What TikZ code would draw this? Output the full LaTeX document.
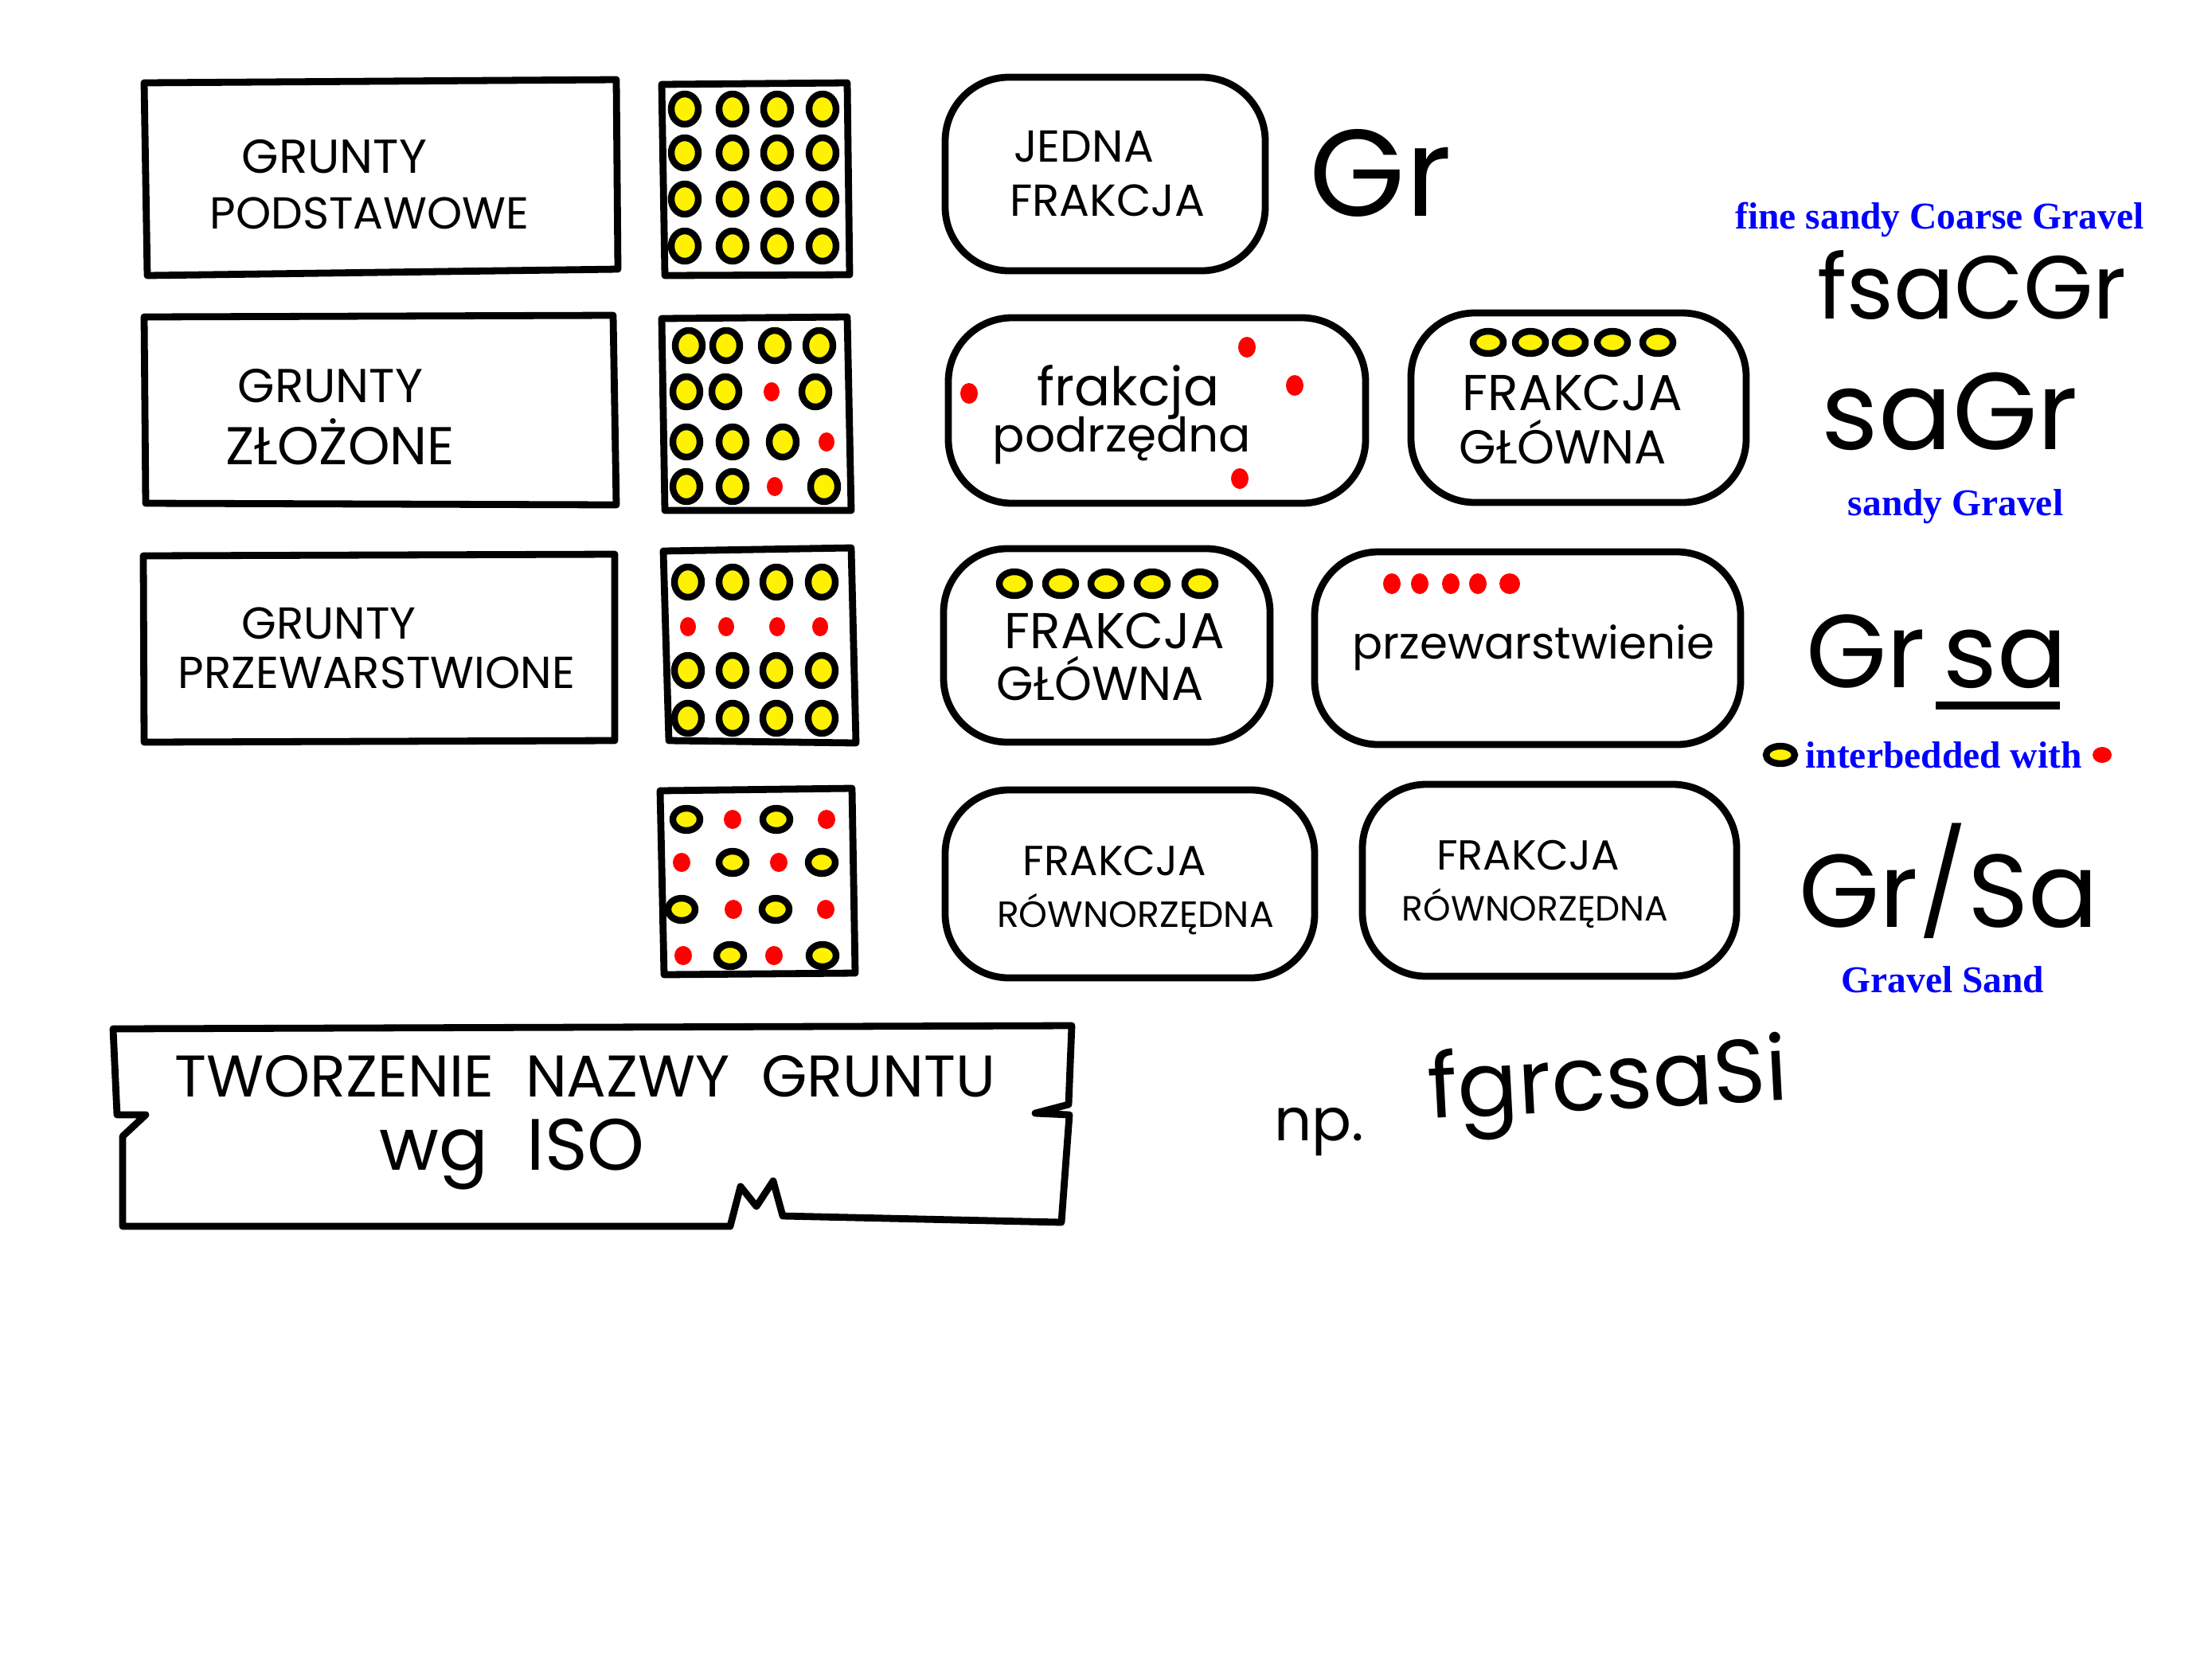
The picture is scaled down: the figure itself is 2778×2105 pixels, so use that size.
\documentclass[tikz,border=0pt]{standalone}
\usepackage{fontspec}
\setmainfont{Liberation Serif}
\newfontfamily\handfont{Poppins}
\newcommand{\odrecz}[1]{\handfont\fontsize{#1}{#1}\selectfont}

\tikzset{
  sketch/.style={line width=2.5pt, line join=round, line cap=round},
  grain/.style={draw=black, fill=yellow, line width=2.4pt},
  fine/.style={fill=red},
  hand/.style={inner sep=0pt},
  note/.style={font=\bfseries\fontsize{13.5}{15}\selectfont, text=blue, inner sep=0pt},
}

\begin{document}
\begin{tikzpicture}[x=0.01cm, y=-0.01cm]
\useasboundingbox (0,0) rectangle (2778,2105);
% draw soil type boxes
	\draw[sketch] (181,104) -- (774,100) -- (776,338) -- (185,346) -- cycle;
	\draw[sketch] (181,398) -- (770,396) -- (774,634) -- (183,632) -- cycle;
	\draw[sketch] (180,698) -- (772,696) -- (772,930) -- (181,932) -- cycle;
	\node[hand, font=\odrecz{17}] (podst1) at (420,197) {GRUNTY};
	\node[hand, font=\odrecz{16}] (podst2) at (464,268) {PODSTAWOWE};
	\node[hand, font=\odrecz{17}] (zloz1) at (415,485) {GRUNTY};
	\node[hand, font=\odrecz{19}] (zloz2) at (427,555) {ZŁOŻONE};
	\node[hand, font=\odrecz{16}] (przew1) at (413,783) {GRUNTY};
	\node[hand, font=\odrecz{16}] (przew2) at (473,845) {PRZEWARSTWIONE};
% draw grain boxes
	\draw[sketch] (831,106) -- (1064,104) -- (1067,345) -- (835,346) -- cycle;
	\draw[sketch] (831,400) -- (1064,398) -- (1069,641) -- (835,641) -- cycle;
	\draw[sketch] (833,692) -- (1069,688) -- (1075,933) -- (840,930) -- cycle;
	\draw[sketch] (829,993) -- (1070,990) -- (1074,1222) -- (834,1224) -- cycle;
% grains: yellow = main fraction, red = other fraction
	\foreach \x in {860,920,976,1033}
		\foreach \y in {137,192,250,309}
			\draw[grain] (\x,\y) ellipse [x radius=17, y radius=19];
	\foreach \x/\y in {865/434,912/434,973/434,1029/434,862/492,911/492,1024/492,
		862/555,920/555,983/555,862/611,920/611,1035/611}
		\draw[grain] (\x,\y) ellipse [x radius=17, y radius=19];
	\foreach \x/\y in {969/492,1038/555,973/611}
		\fill[fine] (\x,\y) ellipse [x radius=10, y radius=12];
	\foreach \x in {864,920,975,1032}
		\foreach \y in {731,842,902}
			\draw[grain] (\x,\y) ellipse [x radius=17, y radius=19];
	\foreach \x in {864,912,976,1030}
		\fill[fine] (\x,787) ellipse [x radius=10, y radius=12];
	\foreach \x/\y in {862/1029,975/1029,920/1083,1032/1083,856/1142,974/1142,917/1200,1033/1200}
		\draw[grain] (\x,\y) ellipse [x radius=17, y radius=14];
	\foreach \x/\y in {920/1029,1038/1029,856/1083,978/1083,921/1142,1037/1142,858/1200,972/1200}
		\fill[fine] (\x,\y) ellipse [x radius=11, y radius=12];
% draw fraction boxes
	\draw[sketch, rounded corners=0.8cm] (1187,97) rectangle (1589,340);
	\draw[sketch, rounded corners=0.8cm] (1191,399) rectangle (1715,632);
	\draw[sketch, rounded corners=0.8cm] (1772,393) rectangle (2193,631);
	\draw[sketch, rounded corners=0.8cm] (1185,689) rectangle (1595,932);
	\draw[sketch, rounded corners=0.8cm] (1651,693) rectangle (2186,935);
	\draw[sketch, rounded corners=0.8cm] (1187,992) rectangle (1651,1228);
	\draw[sketch, rounded corners=0.8cm] (1711,985) rectangle (2181,1226);
	\node[hand, font=\odrecz{16}] (jedna1) at (1361,184) {JEDNA};
	\node[hand, font=\odrecz{16}] (jedna2) at (1391,252) {FRAKCJA};
	\node[hand, font=\odrecz{19}] (podrz1) at (1417,493) {frakcja};
	\node[hand, font=\odrecz{17}] (podrz2) at (1409,553) {podrzędna};
	\foreach \x/\y in {1217/494,1566/436,1626/484,1557/601}
		\fill[fine] (\x,\y) ellipse [x radius=11, y radius=13];
	\foreach \x in {1869,1922,1972,2025,2082}
		\draw[grain] (\x,430) ellipse [x radius=19, y radius=14];
	\node[hand, font=\odrecz{18}] (glow1) at (1975,493) {FRAKCJA};
	\node[hand, font=\odrecz{17}] (glow2) at (1963,555) {GŁÓWNA};
	\foreach \x in {1274,1332,1389,1447,1507}
		\draw[grain] (\x,733) ellipse [x radius=19, y radius=15];
	\node[hand, font=\odrecz{18}] (glow3) at (1400,792) {FRAKCJA};
	\node[hand, font=\odrecz{17}] (glow4) at (1382,852) {GŁÓWNA};
	\foreach \x/\r in {1748/11,1783/11,1822/11,1856/11,1896/13}
		\fill[fine] (\x,733) ellipse [x radius=\r, y radius=13];
	\node[hand, font=\odrecz{16}] (przewar) at (1926,813) {przewarstwienie};
	\node[hand, font=\odrecz{15}] (rown1) at (1400,1081) {FRAKCJA};
	\node[hand, font=\odrecz{13}] (rown2) at (1426,1148) {RÓWNORZĘDNA};
	\node[hand, font=\odrecz{15}] (rown3) at (1919,1074) {FRAKCJA};
	\node[hand, font=\odrecz{12.5}] (rown4) at (1928,1141) {RÓWNORZĘDNA};
% soil symbols
	\node[hand, font=\odrecz{44}, anchor=base west] (gr) at (1644,271) {Gr};
	\node[note] (fsacgr-en) at (2436,276) {fine sandy Coarse Gravel};
	\node[hand, font=\odrecz{32}, anchor=base west] (fsacgr) at (2282,400) {fsaCGr};
	\node[hand, font=\odrecz{39}, anchor=base west] (sagr) at (2287,564) {saGr};
	\node[note] (sagr-en) at (2456,636) {sandy Gravel};
	\node[hand, font=\odrecz{37}, anchor=base west] (grsa) at (2268,863) {Gr\,sa};
	\draw[line width=3pt] (2431,886) -- (2587,886);
	\draw[grain] (2236,948) ellipse [x radius=18, y radius=11];
	\node[note] (grsa-en) at (2441,948) {interbedded with};
	\fill[fine] (2640,948) ellipse [x radius=12, y radius=10];
	\node[hand, font=\odrecz{37}, anchor=base west] (grslsa) at (2259,1164)
		{Gr\raisebox{0.1ex}{/}Sa};
	\node[note] (grslsa-en) at (2440,1230) {Gravel Sand};
% naming banner
	\draw[sketch] (142,1292) -- (1346,1288) -- (1342,1387) -- (1300,1398) -- (1343,1400)
		-- (1333,1535) -- (983,1527) -- (971,1483) -- (950,1515) -- (930,1490) -- (917,1540)
		-- (154,1540) -- (154,1427) -- (183,1400) -- (147,1400) -- cycle;
	\node[hand, font=\odrecz{21}] (tytul1) at (735,1352) {TWORZENIE \ NAZWY \ GRUNTU};
	\node[hand, font=\odrecz{26}] (tytul2) at (643,1450) {wg \ ISO};
	\node[hand, font=\odrecz{21}, anchor=base west] (np) at (1600,1432) {np.};
	\node[hand, font=\odrecz{32}, anchor=base west, rotate=3] (przyklad) at (1795,1405) {fgrcsaSi};
\end{tikzpicture}
\end{document}
